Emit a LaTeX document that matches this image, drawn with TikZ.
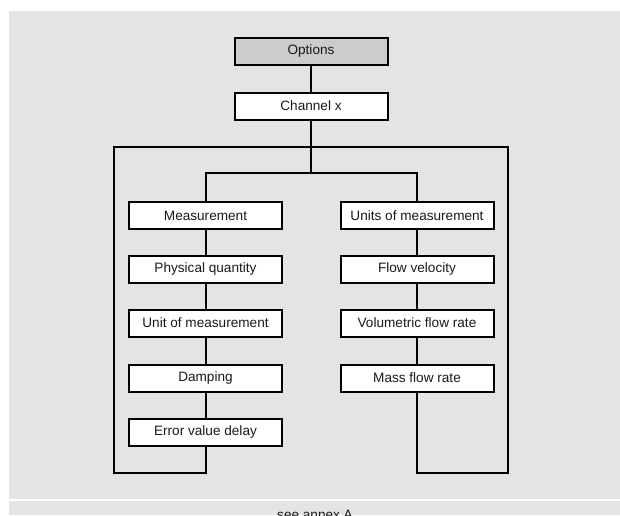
\documentclass[tikz,border=0pt]{standalone}
\usepackage{fontspec}
\setmainfont{Liberation Sans}
\usepackage{tikz}
\usetikzlibrary{positioning,calc}
\definecolor{panel}{HTML}{E4E4E4}
\definecolor{optgray}{HTML}{CCCCCC}
\definecolor{textgray}{HTML}{1A1A1A}
\tikzset{
  menubox/.style={draw=black, line width=2pt, fill=white, minimum width=153pt,
    minimum height=27pt, inner sep=0pt, text=textgray,
    font=\fontsize{13.6}{16}\selectfont},
  link/.style={line width=2pt, black}
}
\begin{document}
\begin{tikzpicture}[x=1pt, y=-1pt]
      \useasboundingbox (0,0) rectangle (620,515);
      \clip (0,0) rectangle (620,515);

      % Panels
      \fill[panel] (9,11) rectangle (620,499);
      \fill[panel] (9,501) rectangle (620,515);

      % Top
      \node[menubox, fill=optgray] (opt) at (311,51) {Options};
      \node[menubox] (chan) at (311,106) {Channel x};

      % Left column
      \node[menubox] (meas) at (205.5,215.5) {Measurement};
      \node[menubox] (phys) at (205.5,269) {Physical quantity};
      \node[menubox] (unit) at (205.5,323) {Unit of measurement};
      \node[menubox] (damp) at (205.5,378) {Damping};
      \node[menubox] (err)  at (205.5,432) {Error value delay};

      % Right column
      \node[menubox] (units) at (417,215.5) {Units of measurement};
      \node[menubox] (flow)  at (417,269) {Flow velocity};
      \node[menubox] (vol)   at (417,323) {Volumetric flow rate};
      \node[menubox] (mass)  at (417,378) {Mass flow rate};

      % Junctions
      \coordinate (top) at (311,147);
      \coordinate (split) at (311,173);
      \coordinate (lcorner) at (114,473);
      \coordinate (rcorner) at (508,473);

      % Connectors
      \draw[link] (opt) -- (chan);
      \draw[link] (chan) -- (top) -- (split);
      \draw[link] (top) -| (lcorner) -| (err);
      \draw[link] (top) -| (rcorner) -| (mass);
      \draw[link] (meas) |- (split) -| (units);
      \draw[link] (meas) -- (phys) -- (unit) -- (damp) -- (err);
      \draw[link] (units) -- (flow) -- (vol) -- (mass);

      % Footer
      \node[text=textgray, font=\fontsize{13.6}{16}\selectfont, anchor=base]
        (annex) at (315,519) {see annex A};
    \end{tikzpicture}
\end{document}
